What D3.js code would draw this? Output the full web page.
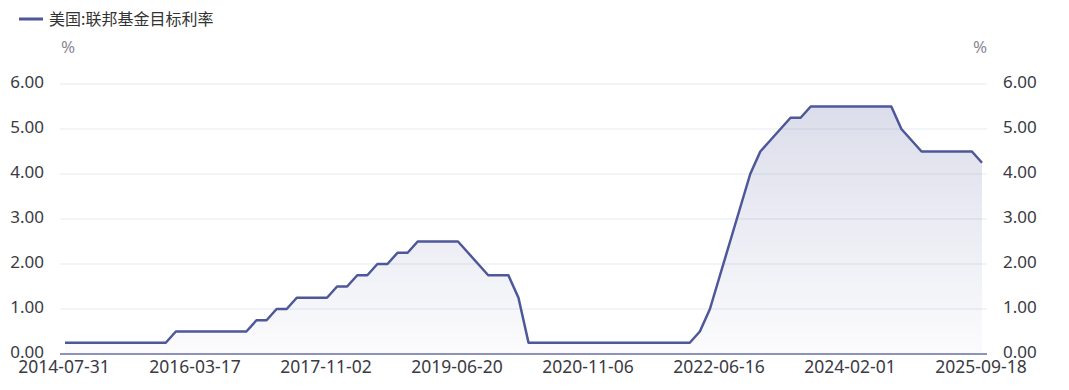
<!DOCTYPE html>
<html>
<head>
<meta charset="utf-8">
<script src="https://cdn.jsdelivr.net/npm/d3@7/dist/d3.min.js"></script>
<style>
  body { margin: 0; background: #fff; }
  svg { display: block; font-family: "Noto Sans", "Noto Sans CJK SC", sans-serif; }
</style>
</head>
<body>
<svg id="chart" width="1069" height="390"></svg>
<script>
// FOMC decision dates (Beijing time) and upper bound of target range
var dates = [
  "2014-07-31","2014-09-18","2014-10-30","2014-12-18",
  "2015-01-29","2015-03-19","2015-04-30","2015-06-18","2015-07-30","2015-09-18","2015-10-29","2015-12-17",
  "2016-01-28","2016-03-17","2016-04-28","2016-06-16","2016-07-28","2016-09-22","2016-11-03","2016-12-15",
  "2017-02-02","2017-03-16","2017-05-04","2017-06-15","2017-07-27","2017-09-21","2017-11-02","2017-12-14",
  "2018-02-01","2018-03-22","2018-05-03","2018-06-14","2018-08-02","2018-09-27","2018-11-09","2018-12-20",
  "2019-01-31","2019-03-21","2019-05-02","2019-06-20","2019-08-01","2019-09-19","2019-10-31","2019-12-12",
  "2020-01-30","2020-03-04","2020-03-16","2020-03-19","2020-04-30","2020-06-11","2020-07-30","2020-09-17","2020-11-06","2020-12-17",
  "2021-01-28","2021-03-18","2021-04-29","2021-06-17","2021-07-29","2021-09-23","2021-11-04","2021-12-16",
  "2022-01-27","2022-03-17","2022-05-05","2022-06-16","2022-07-28","2022-09-22","2022-11-03","2022-12-15",
  "2023-02-02","2023-03-23","2023-05-04","2023-06-15","2023-07-27","2023-09-21","2023-11-02","2023-12-14",
  "2024-02-01","2024-03-21","2024-05-02","2024-06-13","2024-08-01","2024-09-19","2024-11-08","2024-12-19",
  "2025-01-30","2025-03-20","2025-05-08","2025-06-19","2025-07-31","2025-09-18"
];
var rates = [
  0.25,0.25,0.25,0.25,
  0.25,0.25,0.25,0.25,0.25,0.25,0.25,0.50,
  0.50,0.50,0.50,0.50,0.50,0.50,0.50,0.75,
  0.75,1.00,1.00,1.25,1.25,1.25,1.25,1.50,
  1.50,1.75,1.75,2.00,2.00,2.25,2.25,2.50,
  2.50,2.50,2.50,2.50,2.25,2.00,1.75,1.75,
  1.75,1.25,0.25,0.25,0.25,0.25,0.25,0.25,0.25,0.25,
  0.25,0.25,0.25,0.25,0.25,0.25,0.25,0.25,
  0.25,0.50,1.00,1.75,2.50,3.25,4.00,4.50,
  4.75,5.00,5.25,5.25,5.50,5.50,5.50,5.50,
  5.50,5.50,5.50,5.50,5.50,5.00,4.75,4.50,
  4.50,4.50,4.50,4.50,4.50,4.25
];
var xTickLabels = ["2014-07-31","2016-03-17","2017-11-02","2019-06-20","2020-11-06","2022-06-16","2024-02-01","2025-09-18"];
var yTicks = [0, 1, 2, 3, 4, 5, 6];
var seriesName = "美国:联邦基金目标利率";

var lineColor = "#4d5799";
var svg = d3.select("#chart");

var data = dates.map(function(d, i){ return {date: d, value: rates[i]}; });

var x = d3.scalePoint().domain(dates).range([65, 982]);
var y = d3.scaleLinear().domain([0, 6]).range([354, 84]);

// gradient for the area
var grad = svg.append("defs").append("linearGradient")
  .attr("id", "areaGrad").attr("x1", 0).attr("y1", 0).attr("x2", 0).attr("y2", 1);
grad.append("stop").attr("offset", "0%").attr("stop-color", lineColor).attr("stop-opacity", 0.2);
grad.append("stop").attr("offset", "100%").attr("stop-color", lineColor).attr("stop-opacity", 0.02);

// grid lines
svg.append("g").selectAll("line")
  .data(yTicks.filter(function(t){ return t > 0; }))
  .enter().append("line")
  .attr("x1", 60).attr("x2", 987)
  .attr("y1", function(d){ return y(d); }).attr("y2", function(d){ return y(d); })
  .attr("stroke", "#eef0f6").attr("stroke-width", 1.5);

// area + line
svg.append("path").datum(data)
  .attr("fill", "url(#areaGrad)")
  .attr("d", d3.area().x(function(d){ return x(d.date); }).y0(y(0)).y1(function(d){ return y(d.value); }));

svg.append("path").datum(data)
  .attr("fill", "none").attr("stroke", lineColor).attr("stroke-width", 2.5)
  .attr("stroke-linejoin", "round")
  .attr("d", d3.line().x(function(d){ return x(d.date); }).y(function(d){ return y(d.value); }));

// x axis line
svg.append("line").attr("x1", 60).attr("x2", 987).attr("y1", y(0)).attr("y2", y(0))
  .attr("stroke", "#8e94b8").attr("stroke-width", 2);

// y labels, left and right
var yFmt = d3.format(".2f");
svg.append("g").selectAll("text").data(yTicks).enter().append("text")
  .attr("x", 44).attr("y", function(d){ return y(d) - 1.5; }).attr("dy", "0.35em")
  .attr("text-anchor", "end").attr("font-size", 17).attr("fill", "#3a3a44")
  .text(yFmt);
svg.append("g").selectAll("text").data(yTicks).enter().append("text")
  .attr("x", 1003).attr("y", function(d){ return y(d) - 1.5; }).attr("dy", "0.35em")
  .attr("text-anchor", "start").attr("font-size", 17).attr("fill", "#3a3a44")
  .text(yFmt);

// x labels
svg.append("g").selectAll("text").data(xTickLabels).enter().append("text")
  .attr("x", function(d){ return x(d) - 1; }).attr("y", 373)
  .attr("text-anchor", "middle").attr("font-size", 17.5).attr("fill", "#3a3a44")
  .text(function(d){ return d; });

// unit labels
svg.append("text").attr("x", 68).attr("y", 53).attr("text-anchor", "middle")
  .attr("font-size", 17).attr("fill", "#8a8a96").text("%");
svg.append("text").attr("x", 980).attr("y", 53).attr("text-anchor", "middle")
  .attr("font-size", 17).attr("fill", "#8a8a96").text("%");

// legend
svg.append("line").attr("x1", 19).attr("x2", 43).attr("y1", 19).attr("y2", 19)
  .attr("stroke", lineColor).attr("stroke-width", 3);
svg.append("text").attr("x", 49).attr("y", 19).attr("dy", "0.35em")
  .attr("font-family", "'Noto Sans CJK SC', sans-serif")
  .attr("font-size", 16).attr("fill", "#333").text(seriesName);
</script>
</body>
</html>
